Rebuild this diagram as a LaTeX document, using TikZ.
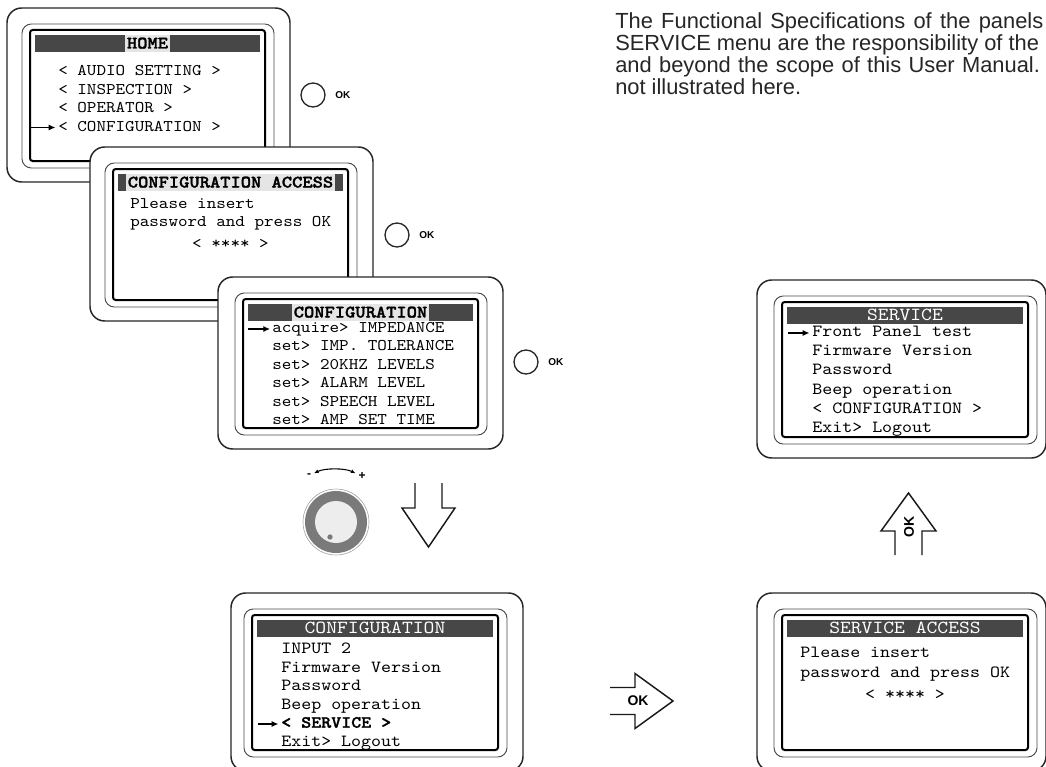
\documentclass[tikz,border=0pt]{standalone}
\usepackage{fontspec}
\setmainfont{Liberation Sans}
\setsansfont{Liberation Sans}
\setmonofont[BoldFont=lmmonolt10-bold.otf, BoldFeatures={FakeBold=1.6}, FakeStretch=1.12]{lmmono10-regular.otf}
\usetikzlibrary{arrows.meta, positioning}

\begin{document}
\begin{tikzpicture}[x=0.75pt, y=-0.75pt,
    bezel/.style={draw=black!85, line width=1.1pt, fill=white, rounded corners=11pt},
    frame/.style={draw=black!70, line width=0.7pt, rounded corners=7pt},
    lcd/.style={draw=black, line width=1.5pt, rounded corners=2pt},
    bar/.style={fill=black!72},
    txt/.style={font=\fontsize{12.2}{14}\ttfamily, anchor=west, inner sep=0pt, text height=8pt, text depth=2.5pt},
    txtb/.style={txt, font=\fontsize{12.75}{14}\ttfamily},
    ttl/.style={font=\fontsize{13.1}{14}\ttfamily\bfseries, fill=black!10, inner sep=1.5pt, text height=8.5pt, text depth=1pt},
    ttlw/.style={font=\fontsize{13.8}{14}\ttfamily, text=white, inner sep=0pt, text height=8.5pt, text depth=1pt},
    cursor/.style={-{Latex[length=5pt, width=4.5pt]}, line width=0.8pt},
    okbtn/.style={draw=black!85, circle, line width=1pt, minimum size=18pt, inner sep=0pt},
    oklbl/.style={font=\fontsize{7.5}{8}\sffamily\bfseries, inner sep=0pt},
    okbig/.style={font=\fontsize{10.5}{11}\sffamily\bfseries, inner sep=0pt},
    outline/.style={draw=black!90, line width=1.1pt},
    note/.style={font=\fontsize{16.4}{18}\selectfont, anchor=base west, inner sep=0pt, text=black!85}
]
\useasboundingbox (0,0) rectangle (1046,767);

% panels: x/y/width/height/left inset/right inset
\foreach \px/\py/\pw/\ph/\pl/\pr in {7/8/283/174/23/25, 90/147/283/174/23/25,
    218/277/285/172/25/25, 231/593/292/178/21/25, 757/593/289/178/25/18,
    757/280/289/178/25/18}{
  \draw[bezel] (\px,\py) rectangle (\px+\pw,\py+\ph);
  \draw[frame] (\px+\pl-8,\py+16) rectangle (\px+\pw-\pr+9,\py+\ph-14);
  \draw[lcd] (\px+\pl,\py+22) rectangle (\px+\pw-\pr,\py+\ph-21);
  \fill[bar] (\px+\pl+5,\py+27) rectangle (\px+\pw-\pr-5,\py+44);
}

% home
\node[ttl] (home) at (147.5,43.5) {HOME};
\node[txt] (home1) at (58,72) {< AUDIO SETTING >};
\node[txt] (home2) at (58,90.5) {< INSPECTION >};
\node[txt] (home3) at (58,109) {< OPERATOR >};
\node[txt] (home4) at (58,127.5) {< CONFIGURATION >};
\draw[cursor] ([xshift=-21pt]home4.west) -- ([xshift=-2pt]home4.west);

% configuration access
\node[ttl] (acc) at (230.5,182.5) {CONFIGURATION ACCESS};
\node[txt] (acc1) at (130,205) {Please insert};
\node[txt] (acc2) at (130,223) {password and press OK};
\node[txt, anchor=center] (acc3) at (230.5,245) {< **** >};

% configuration
\node[ttl] (cfg) at (360.5,312.5) {CONFIGURATION};
\node[txt] (cfg1) at (272,329) {acquire> IMPEDANCE};
\node[txt] (cfg2) at (272,347) {set> IMP. TOLERANCE};
\node[txt] (cfg3) at (272,365.5) {set> 20KHZ LEVELS};
\node[txt] (cfg4) at (272,384) {set> ALARM LEVEL};
\node[txt] (cfg5) at (272,402.5) {set> SPEECH LEVEL};
\node[txt] (cfg6) at (272,421) {set> AMP SET TIME};
\draw[cursor] ([xshift=-18pt]cfg1.west) -- ([xshift=-1.5pt]cfg1.west);

% configuration, scrolled down
\node[ttlw] (cfgb) at (375,628.5) {CONFIGURATION};
\node[txtb] (cfgb1) at (281,650) {INPUT 2};
\node[txtb] (cfgb2) at (281,668.5) {Firmware Version};
\node[txtb] (cfgb3) at (281,687) {Password};
\node[txtb] (cfgb4) at (281,705.5) {Beep operation};
\node[txtb] (cfgb5) at (281,724) {\bfseries < SERVICE >};
\node[txtb] (cfgb6) at (281,742.5) {Exit> Logout};
\draw[cursor] ([xshift=-17pt]cfgb5.west) -- ([xshift=-2pt]cfgb5.west);

% service access
\node[ttlw] (sacc) at (905,628.5) {SERVICE ACCESS};
\node[txtb] (sacc1) at (800,653.5) {Please insert};
\node[txtb] (sacc2) at (800,673.5) {password and press OK};
\node[txtb, anchor=center] (sacc3) at (905,696) {< **** >};

% service
\node[ttlw] (svc) at (905,315.5) {SERVICE};
\node[txtb] (svc1) at (812,333) {Front Panel test};
\node[txtb] (svc2) at (812,352) {Firmware Version};
\node[txtb] (svc3) at (812,371) {Password};
\node[txtb] (svc4) at (812,390.5) {Beep operation};
\node[txtb] (svc5) at (812,409.5) {< CONFIGURATION >};
\node[txtb] (svc6) at (812,428.5) {Exit> Logout};
\draw[cursor] ([xshift=-18pt]svc1.west) -- ([xshift=-2pt]svc1.west);

% ok buttons
\node[okbtn] (ok1) at (313,95) {};
\node[oklbl, right=7pt of ok1] (ok1lbl) {OK};
\node[okbtn] (ok2) at (397,235) {};
\node[oklbl, right=7pt of ok2] (ok2lbl) {OK};
\node[okbtn] (ok3) at (526,362) {};
\node[oklbl, right=7pt of ok3] (ok3lbl) {OK};

% knob
\node[circle, fill=black!52, minimum size=46.5pt, inner sep=0pt] (knob) at (336,522) {};
\node[circle, draw=black!40, line width=0.4pt, minimum size=49.5pt, inner sep=0pt] (knobrim) at (knob) {};
\node[circle, fill=black!7, minimum size=31.5pt, inner sep=0pt] (knobcap) at (knob) {};
\node[circle, fill=black!52, minimum size=4pt, inner sep=0pt] (knobdot) at (330,537) {};
\node[font=\fontsize{9}{9}\sffamily\bfseries, inner sep=0pt] (minus) at (309,476) {-};
\node[font=\fontsize{9}{9}\sffamily\bfseries, inner sep=0pt] (plus) at (362,476) {+};
\draw[{Latex[length=3.5pt, width=3pt]}-{Latex[length=3.5pt, width=3pt]}, line width=0.8pt]
  ([shift={(2pt,2pt)}]minus.east) .. controls +(8pt,4pt) and +(-8pt,4pt) .. ([shift={(-2pt,2pt)}]plus.west);

% big arrows
\draw[outline] (415,483) -- (415,508) -- (402,508) -- (428.5,547) -- (455,508) -- (442,508) -- (442,483);
\draw[outline] (895,555) -- (895,531) -- (881,531) -- (908.5,493) -- (936,531) -- (922,531) -- (922,555);
\node[okbig, rotate=90] (okup) at (909,527) {OK};
\draw[outline] (610,687.5) -- (635,687.5) -- (635,673.5) -- (673,701) -- (635,728.5) -- (635,714.5) -- (610,714.5);
\node[okbig] (okright) at (638,701) {OK};

% note
\node[note] (note1) at (615,29) {\makebox[321pt][s]{The Functional Specifications of the panels}};
\node[note] (note2) at (615,51) {SERVICE menu are the responsibility of the};
\node[note] (note3) at (615,73) {\makebox[318.5pt][s]{and beyond the scope of this User Manual.}};
\node[note] (note4) at (615,94) {not illustrated here.};

\end{tikzpicture}
\end{document}
